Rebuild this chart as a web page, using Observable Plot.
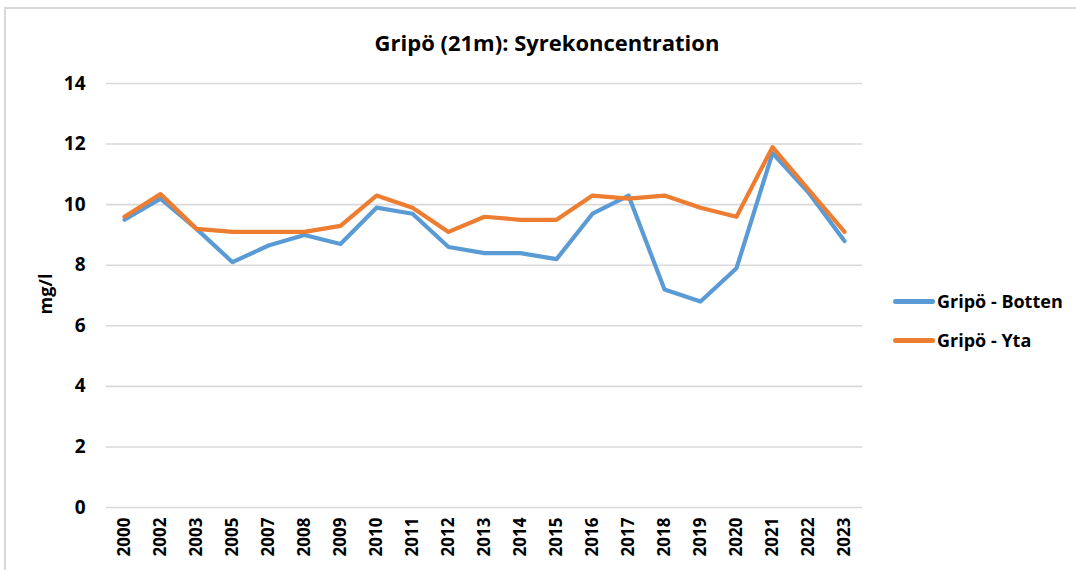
<!DOCTYPE html>
<html><head><meta charset="utf-8">
<script src="https://cdn.jsdelivr.net/npm/d3@7"></script>
<script src="https://cdn.jsdelivr.net/npm/@observablehq/plot@0.6"></script>
<style>
body{margin:0;background:#fff;font-family:"Open Sans",sans-serif;color:#000;}
#wrap{position:relative;width:1076px;height:570px;overflow:hidden;}
#border{position:absolute;left:4px;top:7px;width:1200px;height:700px;border:2px solid #d9d9d9;box-sizing:border-box;}
#chart{position:absolute;left:0;top:0;}
#title{position:absolute;top:27px;left:547px;transform:translateX(-50%);white-space:nowrap;font-weight:700;font-size:22px;line-height:30px;}
#ylab{position:absolute;left:45px;top:294px;transform:translate(-50%,-50%) rotate(-90deg);white-space:nowrap;font-weight:700;font-size:18px;line-height:22px;}
.leg{position:absolute;left:893px;display:flex;align-items:center;font-weight:700;font-size:18px;white-space:nowrap;}
.sw{width:42px;height:5px;border-radius:3px;margin-right:2px;}
</style>
</head><body>
<div id="wrap">
  <div id="border"></div>
  <div id="chart"></div>
  <div id="title"></div>
  <div id="ylab"></div>
  <div id="legend"></div>
</div>
<script>
const years = ["2000","2002","2003","2005","2007","2008","2009","2010","2011","2012","2013","2014","2015","2016","2017","2018","2019","2020","2021","2022","2023"];
const botten = [9.5,10.2,9.2,8.1,8.65,9.0,8.7,9.9,9.7,8.6,8.4,8.4,8.2,9.7,10.3,7.2,6.8,7.9,11.7,10.4,8.8];
const yta = [9.6,10.35,9.2,9.1,9.1,9.1,9.3,10.3,9.9,9.1,9.6,9.5,9.5,10.3,10.2,10.3,9.9,9.6,11.9,10.5,9.1];
const seriesNames = ["Gripö - Botten","Gripö - Yta"];
const seriesColors = ["#5B9BD5","#ED7D31"];
const yTicks = [0,2,4,6,8,10,12,14];
const titleText = "Gripö (21m): Syrekoncentration";
const yLabel = "mg/l";

const data = [];
years.forEach((yr,i)=>{
  data.push({year:yr, value:botten[i], series:seriesNames[0]});
});
years.forEach((yr,i)=>{
  data.push({year:yr, value:yta[i], series:seriesNames[1]});
});

const chart = Plot.plot({
  width:1076, height:570,
  marginTop:83, marginBottom:63, marginLeft:106, marginRight:214,
  style:{fontFamily:"'Open Sans', sans-serif", background:"transparent", overflow:"visible"},
  x:{type:"point", domain:years, padding:0.5, label:null},
  y:{domain:[0,14], ticks:yTicks, label:null},
  color:{domain:seriesNames, range:seriesColors},
  marks:[
    Plot.gridY(yTicks,{stroke:"#d9d9d9", strokeOpacity:1, strokeWidth:1.6}),
    Plot.axisY({ticks:yTicks, tickSize:0, tickPadding:21, fontSize:19, fontWeight:"bold", fill:"#000", label:null, tickFormat:d=>String(d)}),
    Plot.axisX({tickRotate:-90, tickSize:0, tickPadding:10, fontSize:17, fontWeight:"bold", fill:"#000", label:null}),
    Plot.line(data,{x:"year", y:"value", z:"series", stroke:"series", strokeWidth:4.2, strokeLinejoin:"round", strokeLinecap:"round"})
  ]
});
document.getElementById("chart").appendChild(chart);
document.getElementById("title").textContent = titleText;
document.getElementById("ylab").textContent = yLabel;
const legend = document.getElementById("legend");
const legTops = [289, 328];
seriesNames.forEach((n,i)=>{
  const d = document.createElement("div");
  d.className = "leg";
  d.style.top = legTops[i] + "px";
  d.innerHTML = `<span class="sw" style="background:${seriesColors[i]}"></span><span>${n}</span>`;
  legend.appendChild(d);
});
</script>
</body></html>
